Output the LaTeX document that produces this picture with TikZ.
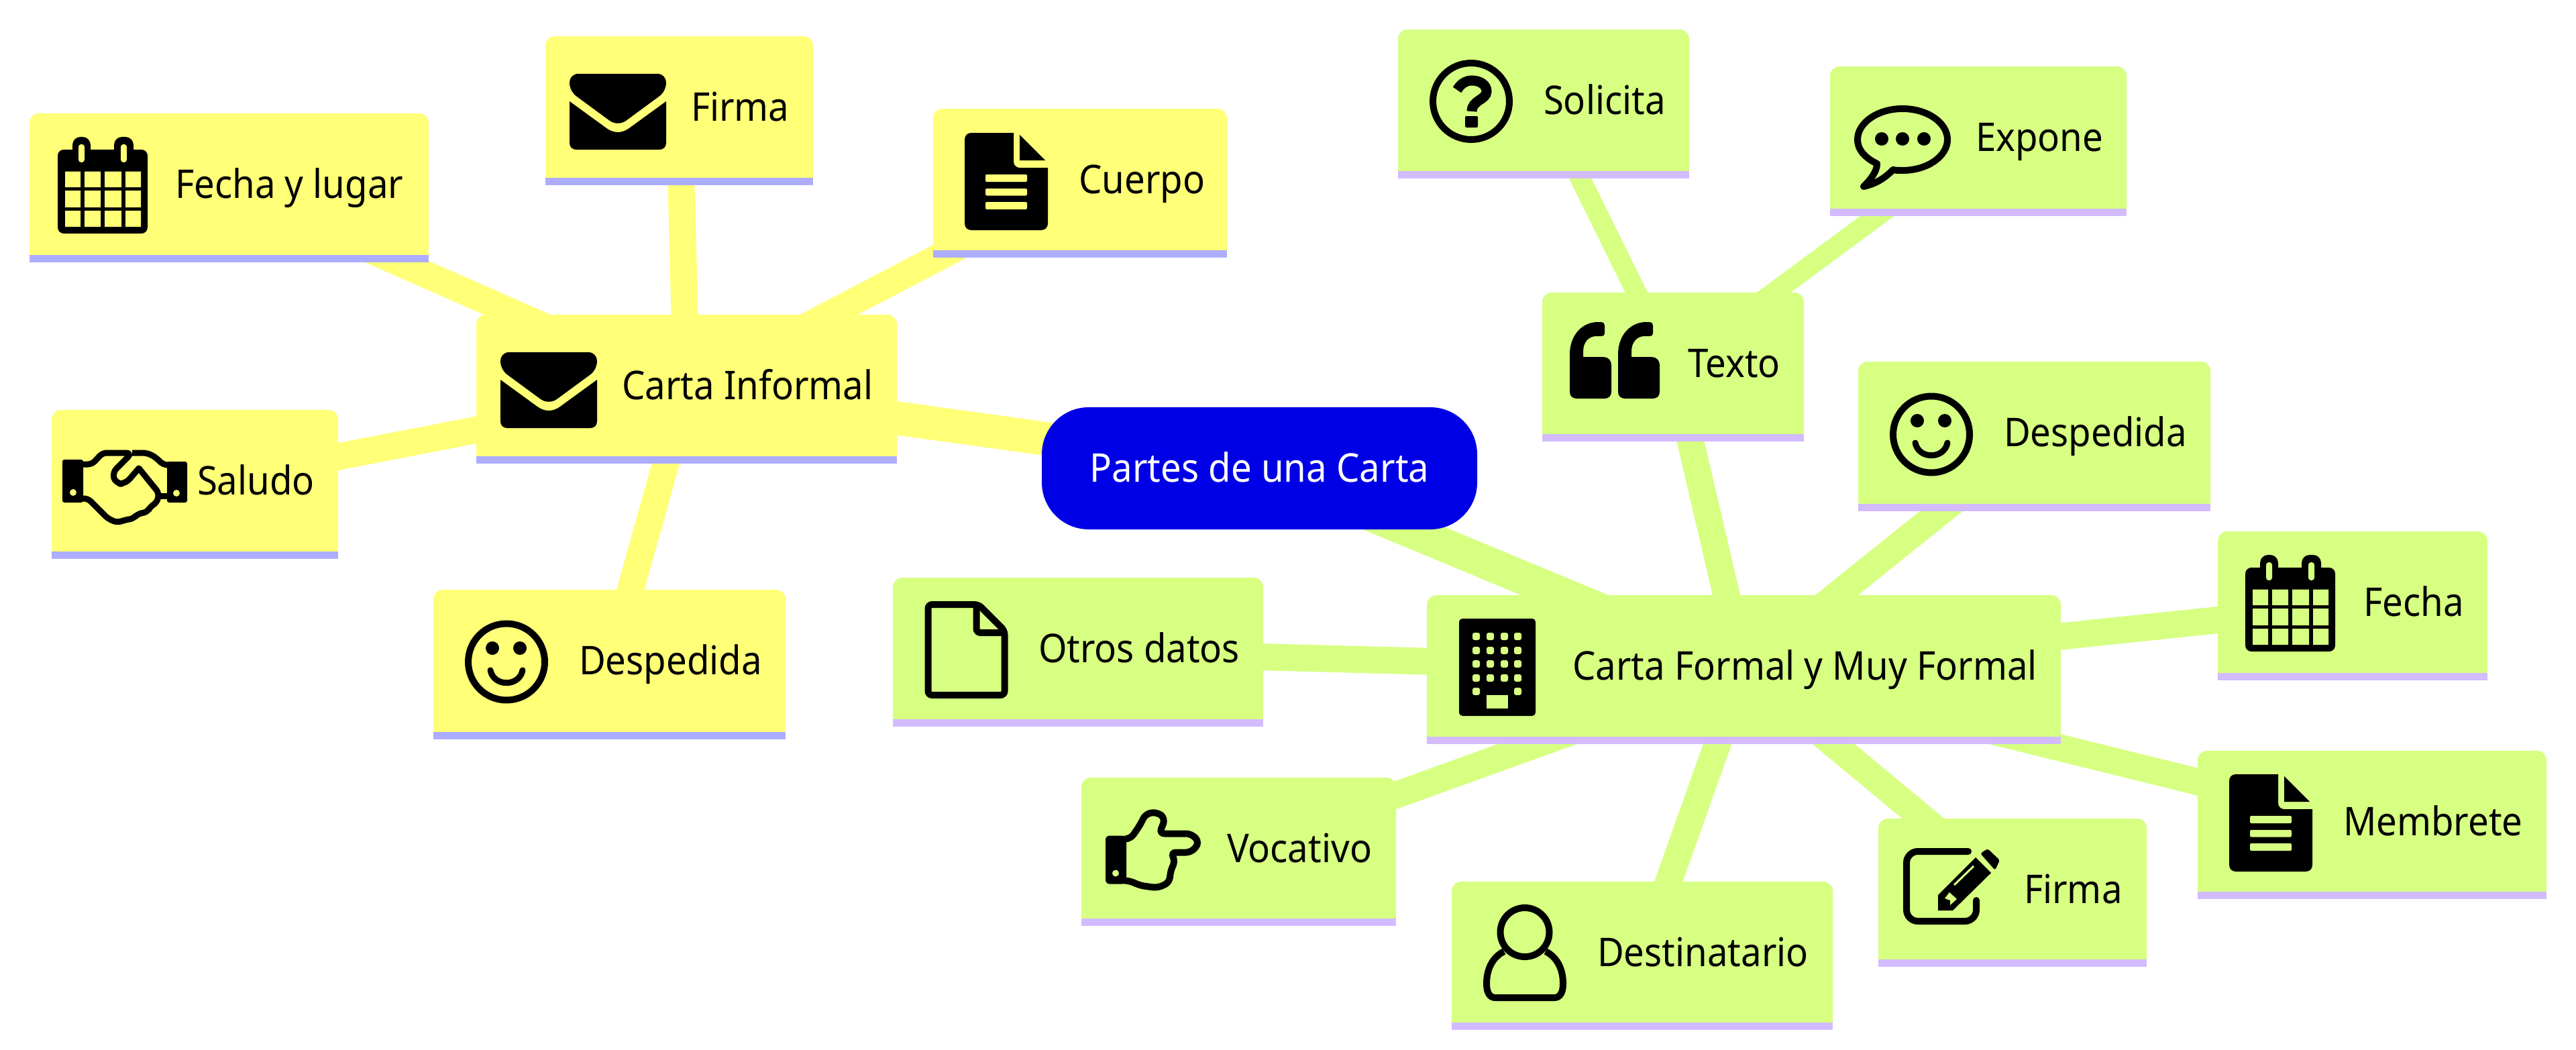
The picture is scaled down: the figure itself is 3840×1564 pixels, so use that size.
\documentclass[tikz,border=0pt]{standalone}
\usepackage{fontspec}
\setmainfont[FakeStretch=0.925]{Noto Sans}
\usetikzlibrary{backgrounds}
\definecolor{cardY}{HTML}{FFFF78}
\definecolor{cardG}{HTML}{D7FF82}
\definecolor{stripeY}{HTML}{ADADFF}
\definecolor{stripeG}{HTML}{D2BBFF}
\definecolor{rootB}{HTML}{0000E6}
\tikzset{
  cardbox/.style 2 args={inner sep=0pt,outer sep=0pt,path picture={
    \fill[#1] ([yshift=9pt]path picture bounding box.south west) [rounded corners=14pt] -- (path picture bounding box.north west) -- (path picture bounding box.north east) [sharp corners] -- ([yshift=9pt]path picture bounding box.south east) -- cycle;
    \fill[#2] ([yshift=11pt]path picture bounding box.south west) rectangle (path picture bounding box.south east);
  }},
  yellowcard/.style={cardbox={cardY}{stripeY}},
  greencard/.style={cardbox={cardG}{stripeG}},
  rootbox/.style={fill=rootB,rounded corners=70pt,inner sep=0pt,outer sep=0pt},
  cardtext/.style={anchor=base west,inner sep=0pt,outer sep=0pt,font=\fontsize{59}{70}\selectfont,text=black},
  roottext/.style={anchor=base,inner sep=0pt,outer sep=0pt,font=\fontsize{59}{70}\selectfont,text=white},
  linkA/.style={line width=50pt},
  linkB/.style={line width=40pt},
  linkC/.style={line width=30pt},
  iconline/.style={draw=black,line width=10pt,fill=none},
  pics/calendar/.style={code={
    \fill[black,rounded corners=9pt] (0,19) rectangle (134,144);
    \fill[black,rounded corners=12pt] (22,0) rectangle (49,44);
    \fill[black,rounded corners=12pt] (84,0) rectangle (113,44);
    \fill[#1,rounded corners=4pt] (31,11) rectangle (40,38);
    \fill[#1,rounded corners=4pt] (94,11) rectangle (103,38);
    \fill[#1] (11,51.5) rectangle (34,75) (40,51.5) rectangle (64,75) (70,51.5) rectangle (95,75) (101,51.5) rectangle (124,75)
              (11,80) rectangle (34,105) (40,80) rectangle (64,105) (70,80) rectangle (95,105) (101,80) rectangle (124,105)
              (11,110) rectangle (34,134) (40,110) rectangle (64,134) (70,110) rectangle (95,134) (101,110) rectangle (124,134);
  }},
  pics/envelope/.style={code={
    \fill[black] (13,0) -- (131,0) .. controls (139,0) and (144,6) .. (144,13) .. controls (144,22) and (139,30) .. (133,34) -- (84,70) .. controls (77,75) and (67,75) .. (60,70) -- (11,34) .. controls (5,30) and (0,22) .. (0,13) .. controls (0,6) and (5,0) .. (13,0) -- cycle;
    \fill[black] (0,41) -- (55,81) .. controls (66,89) and (78,89) .. (89,81) -- (144,41) -- (144,103) .. controls (144,109) and (140,113) .. (134,113) -- (10,113) .. controls (4,113) and (0,109) .. (0,103) -- cycle;
  }},
  pics/docfull/.style={code={
    \fill[black] (10,0) -- (73,0) -- (73,43) .. controls (73,48) and (77,52) .. (82,52) -- (124,52) -- (124,135) .. controls (124,141) and (120,145) .. (114,145) -- (10,145) .. controls (4,145) and (0,141) .. (0,135) -- (0,10) .. controls (0,4) and (4,0) .. (10,0) -- cycle;
    \fill[black] (82,3) -- (120,41) -- (82,41) -- cycle;
    \fill[#1,rounded corners=2pt] (31,62) rectangle (93,73) (31,83) rectangle (93,93.5) (31,103) rectangle (93,114);
  }},
  pics/docline/.style={code={
    \draw[iconline,rounded corners=6pt] (5,5) -- (80,5) -- (119,44) -- (119,140) -- (5,140) -- cycle;
    \draw[black,line width=10pt,rounded corners=6pt] (77,5) -- (77,47) -- (119,47);
  }},
  pics/smiley/.style={code={
    \draw[iconline] (62,62.5) circle[radius=57];
    \fill[black] (41,42) circle[radius=10] (82,42) circle[radius=10];
    \draw[black,line width=9pt,line cap=round] (38,75) .. controls (43,100) and (81,100) .. (86,75);
  }},
  pics/question/.style={code={
    \draw[iconline] (62,62) circle[radius=57];
    \draw[black,line width=15pt] (41,45) .. controls (47,35) and (55,31) .. (63,31) .. controls (76,31) and (85,38) .. (85,47) .. controls (85,60) and (63,60) .. (63,77);
    \fill[black,rounded corners=2pt] (53,84) rectangle (72,101);
  }},
  pics/speech/.style={code={
    \draw[iconline,line join=round] (14,122) .. controls (32,118) and (45,110) .. (58,97) .. controls (62,98) and (67,98) .. (72,98) .. controls (109,98) and (139,77) .. (139,52) .. controls (139,27) and (109,6) .. (72,6) .. controls (35,6) and (5,27) .. (5,52) .. controls (5,66) and (14,78) .. (34,88) .. controls (34,100) and (24,112) .. (14,122) -- cycle;
    \fill[black] (41,51) circle[radius=10] (72,51) circle[radius=10] (104,51) circle[radius=10];
  }},
  pics/quoteleft/.style={code={
    \foreach \qx in {0,72}{
      \fill[black,shift={(\qx,0)}] (10,114) .. controls (4,114) and (0,110) .. (0,104) -- (0,48) .. controls (0,20) and (18,0) .. (42,0) -- (47,0) .. controls (50,0) and (52,2) .. (52,5) -- (52,17) .. controls (52,20) and (50,21) .. (47,21) -- (40,21) .. controls (28,21) and (20,30) .. (20,44) -- (20,52) -- (50,52) .. controls (57,52) and (62,57) .. (62,64) -- (62,104) .. controls (62,110) and (58,114) .. (52,114) -- cycle;
    }
  }},
  pics/building/.style={code={
    \fill[black,rounded corners=5pt] (0,0) rectangle (114,145);
    \foreach \wx in {20,41,62,82}{\foreach \wy in {21,42,62,83}{
      \fill[#1,rounded corners=3pt] (\wx,\wy) rectangle +(11,11);
    }}
    \fill[#1,rounded corners=3pt] (20,103) rectangle +(11,11) (82,103) rectangle +(11,11);
    \fill[#1] (41,114) rectangle (73,134);
  }},
  pics/pointer/.style={code={
    \fill[black,rounded corners=6pt] (0,41) rectangle (31,113);
    \fill[#1] (15,97) circle[radius=5];
    \draw[black,line width=10pt,rounded corners=8pt,fill=none] (30,46) -- (37,46) -- (51,26) -- (60,8) -- (78,6) -- (89,16) -- (80,38) -- (128,38) -- (140,51) -- (128,66) -- (97,66) -- (104,78) -- (96,96) -- (96,110) -- (78,119) -- (50,115) -- (36,108) -- (30,108);
  }},
  pics/userline/.style={code={
    \draw[black,line width=10pt] (31,70) .. controls (15,78) and (5,95) .. (5,118) .. controls (5,132) and (10,139) .. (18,139) -- (106,139) .. controls (114,139) and (119,132) .. (119,118) .. controls (119,95) and (109,78) .. (93,70);
    \draw[iconline] (62,41.5) circle[radius=36.5];
  }},
  pics/editpen/.style={code={
    \draw[black,line width=10pt,line cap=round,rounded corners=17pt] (97,5) -- (5,5) -- (5,109) -- (109,109) -- (109,78);
    \fill[black,rounded corners=3pt] (115,8) -- (126,1) -- (144,18) -- (137,33) -- cycle;
    \fill[black] (108,14) -- (131,37) -- (74,93) -- (52,93) -- (52,70) -- cycle;
    \draw[#1,line width=3pt] (105,27) -- (76,55);
    \fill[#1] (62,75) -- (69,66) -- (80,76) -- (70,85) -- (70,78) -- cycle;
  }},
  pics/handshake/.style={code={
    \fill[black,rounded corners=3pt] (0,18) rectangle (31,82);
    \fill[black,rounded corners=3pt] (156,21) rectangle (186,82);
    \fill[#1] (16,67) circle[radius=5] (170,68) circle[radius=5];
    % left hand sleeve to palm, and the hand below
    \draw[black,line width=9pt,rounded corners=6pt,line join=round,fill=none] (30,25) -- (44,25) -- (60,8) -- (92,8);
    \draw[black,line width=9pt,rounded corners=9pt,line join=round,fill=none] (92,8) -- (104,8) -- (74,38) -- (80,54) -- (94,54) -- (114,31);
    \draw[black,line width=9pt,line cap=round,rounded corners=6pt,fill=none] (114,31) -- (144,68) -- (141,82) -- (131,88) -- (127,96) -- (112,99) -- (106,106) -- (93,108) -- (82,112) -- (68,106) -- (38,76) -- (30,76);
    \draw[black,line width=9pt,rounded corners=7pt,fill=none] (104,8) -- (127,8) -- (141,16) -- (150,26) -- (157,26);
    \draw[black,line width=9pt,rounded corners=3pt,fill=none] (141,72) -- (157,72);
  }},
}
\newcommand{\mapcard}[7]{%
  \pgfmathsetmacro{\cW}{#5-#3}\pgfmathsetmacro{\cH}{#6-#4}%
  \node[#2,minimum width=\cW pt,minimum height=\cH pt] (#1) at ({(#3+#5)/2},{(#4+#6)/2}) {};
  \node[cardtext] (#1-t) at ({#3+217},{#4+126.5}) {#7};
}
\begin{document}
\begin{tikzpicture}[x=1pt,y=-1pt]
\useasboundingbox (0,0) rectangle (3840,1564);
% cards
\node[rootbox,minimum width=649pt,minimum height=182pt] (root) at (1877.5,698) {};
\node[roottext] (root-t) at (1877.5,718) {Partes de una Carta};
\mapcard{inf}{yellowcard}{710}{469}{1337}{691}{Carta Informal}
\mapcard{fechal}{yellowcard}{44}{169}{639}{391}{Fecha y lugar}
\mapcard{firmaA}{yellowcard}{813}{54}{1212}{276}{Firma}
\mapcard{cuerpo}{yellowcard}{1391}{162}{1829}{384}{Cuerpo}
\mapcard{saludo}{yellowcard}{77}{611}{504}{833}{Saludo}
\mapcard{despA}{yellowcard}{646}{879}{1171}{1102}{Despedida}
\mapcard{formal}{greencard}{2127}{887}{3072}{1109}{Carta Formal y Muy Formal}
\mapcard{otros}{greencard}{1331}{861}{1883}{1083}{Otros datos}
\mapcard{vocativo}{greencard}{1612}{1159}{2081}{1380}{Vocativo}
\mapcard{destin}{greencard}{2164}{1314}{2732}{1535}{Destinatario}
\mapcard{firmaB}{greencard}{2800}{1220}{3200}{1441}{Firma}
\mapcard{membrete}{greencard}{3276}{1119}{3796}{1340}{Membrete}
\mapcard{fecha}{greencard}{3306}{792}{3708}{1014}{Fecha}
\mapcard{despB}{greencard}{2770}{539}{3295}{762}{Despedida}
\mapcard{texto}{greencard}{2299}{436}{2689}{658}{Texto}
\mapcard{solicita}{greencard}{2084}{44}{2518}{266}{Solicita}
\mapcard{expone}{greencard}{2728}{99}{3170}{322}{Expone}
% connectors behind the cards
\begin{pgfonlayer}{background}
\fill[white] (0,0) rectangle (3840,1564);
\draw[cardY,linkA] (root.center) -- (inf.center);
\draw[cardG,linkA] (root.center) -- (formal.center);
\foreach \c in {fechal,firmaA,cuerpo,saludo,despA}{\draw[cardY,linkB] (inf.center) -- (\c.center);}
\foreach \c in {otros,vocativo,destin,firmaB,membrete,fecha,despB,texto}{\draw[cardG,linkB] (formal.center) -- (\c.center);}
\foreach \c in {solicita,expone}{\draw[cardG,linkC] (texto.center) -- (\c.center);}
\end{pgfonlayer}
% icons
\pic at (86,204) {calendar=cardY};
\pic at (849,110) {envelope};
\pic at (746,525) {envelope};
\pic at (1438,198) {docfull=cardY};
\pic at (93,667) {handshake=cardY};
\pic at (693,924) {smiley};
\pic at (2175,922) {building=cardG};
\pic at (1378.5,896) {docline};
\pic at (1648,1204.5) {pointer=cardG};
\pic at (2211,1348) {userline};
\pic at (2837,1264) {editpen=cardG};
\pic at (3323,1154) {docfull=cardG};
\pic at (3347,827) {calendar=cardG};
\pic at (2817,585) {smiley};
\pic at (2340,480) {quoteleft};
\pic at (2131,89) {question};
\pic at (2764,156) {speech};
\end{tikzpicture}
\end{document}
